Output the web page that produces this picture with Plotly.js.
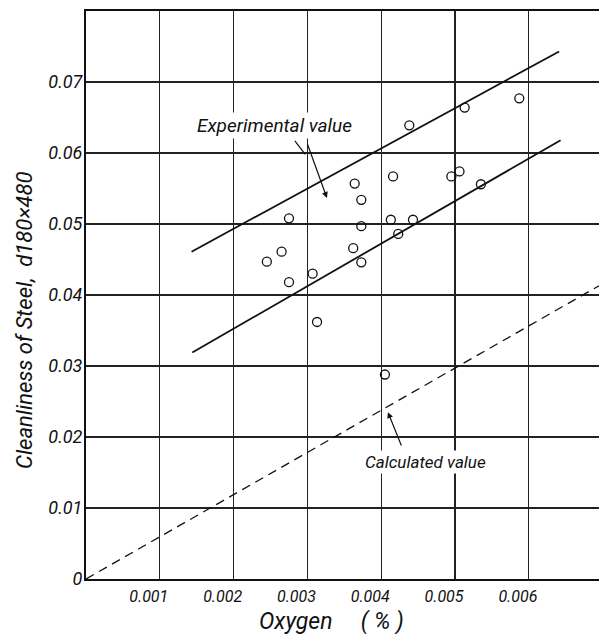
<!DOCTYPE html>
<html>
<head>
<meta charset="utf-8">
<script src="https://cdn.plot.ly/plotly-3.0.1.min.js"></script>
<style>html,body{margin:0;padding:0;background:#fff;}#chart{width:599px;height:634px;}</style>
</head>
<body>
<div id="chart"></div>
<script>
// Measured data (oxygen %, cleanliness)
const oxygen = [0.00245, 0.00265, 0.00275, 0.00275, 0.00307, 0.00313, 0.00362, 0.00364, 0.00373, 0.00373, 0.00373,
                0.00405, 0.00413, 0.00416, 0.00423, 0.00438, 0.00443, 0.00495, 0.00506, 0.00513, 0.00535, 0.00587];
const cleanliness = [0.0447, 0.0461, 0.0508, 0.0418, 0.0430, 0.0362, 0.0466, 0.0557, 0.0534, 0.0497, 0.0446,
                     0.0288, 0.0506, 0.0567, 0.0486, 0.0639, 0.0506, 0.0567, 0.0574, 0.0664, 0.0556, 0.0677];
// Experimental band lines
const upperX = [0.00143, 0.00641];
const upperY = [0.0461, 0.0743];
const lowerX = [0.00144, 0.00643];
const lowerY = [0.0319, 0.0618];
// Calculated value (dashed)
const calcX = [0, 0.00695];
const calcY = [0, 0.0413];
// Ticks
const xTickVals = [0.001, 0.002, 0.003, 0.004, 0.005, 0.006];
const xTickText = ["0.001", "0.002", "0.003", "0.004", "0.005", "0.006"];
const yTickVals = [0, 0.01, 0.02, 0.03, 0.04, 0.05, 0.06, 0.07];
const yTickText = ["0", "0.01", "0.02", "0.03", "0.04", "0.05", "0.06", "0.07"];

const FONT = "Roboto, Liberation Sans Narrow, sans-serif";
const ink = "#111";

const traces = [
  {x: upperX, y: upperY, mode: "lines", line: {color: ink, width: 1.8}, hoverinfo: "skip"},
  {x: lowerX, y: lowerY, mode: "lines", line: {color: ink, width: 1.8}, hoverinfo: "skip"},
  {x: calcX, y: calcY, mode: "lines", line: {color: ink, width: 1.3, dash: "9px,6px"}, hoverinfo: "skip"},
  {x: oxygen, y: cleanliness, mode: "markers",
   marker: {symbol: "circle-open", size: 9, color: ink, line: {width: 1.3, color: ink}}}
];

const layout = {
  width: 599, height: 634,
  margin: {l: 86, r: 0, t: 11, b: 55},
  paper_bgcolor: "#fff", plot_bgcolor: "#fff",
  showlegend: false,
  font: {family: FONT, style: "italic", color: ink},
  xaxis: {
    range: [0, 0.00695], tickvals: xTickVals, ticktext: xTickText,
    showgrid: true, gridcolor: "#222", gridwidth: 1.2,
    showline: true, linecolor: ink, linewidth: 2, mirror: true,
    zeroline: false, ticks: "", ticklabelshift: -11, ticklabelstandoff: 2,
    tickfont: {family: FONT, size: 16, style: "italic", color: ink}
  },
  yaxis: {
    range: [0, 0.08], tickvals: yTickVals, ticktext: yTickText,
    showgrid: true, gridcolor: "#222", gridwidth: 1.2,
    showline: true, linecolor: ink, linewidth: 2, mirror: false,
    zeroline: false, ticks: "", ticklabelstandoff: -2,
    tickfont: {family: FONT, size: 18, style: "italic", color: ink}
  },
  shapes: [
    {type: "line", xref: "x", yref: "y", x0: 0.00283, y0: 0.0617, x1: 0.00297, y1: 0.0598,
     line: {color: ink, width: 1.2}}
  ],
  annotations: [
    {xref: "x", yref: "y", x: 0.00256, y: 0.0639, text: "Experimental value", showarrow: false,
     xanchor: "center", yanchor: "middle",
     bgcolor: "#fff", font: {family: FONT, size: 19, style: "italic", color: ink}},
    {xref: "x", yref: "y", x: 0.003264, y: 0.05366, axref: "x", ayref: "y", ax: 0.002995, ay: 0.0614,
     text: "", showarrow: true, arrowhead: 2, arrowsize: 1, arrowwidth: 1.2, arrowcolor: ink},
    {xref: "x", yref: "y", x: 0.004605, y: 0.01648, text: "Calculated value", showarrow: false,
     xanchor: "center", yanchor: "middle",
     bgcolor: "#fff", font: {family: FONT, size: 17, style: "italic", color: ink}},
    {xref: "x", yref: "y", x: 0.00409, y: 0.0235, axref: "x", ayref: "y", ax: 0.00428, ay: 0.0186,
     text: "", showarrow: true, arrowhead: 2, arrowsize: 1, arrowwidth: 1.2, arrowcolor: ink},
    {xref: "paper", yref: "paper", x: (24 - 86) / 513, y: (579 - 320) / 568, textangle: -90,
     xanchor: "center", yanchor: "middle",
     text: "Cleanliness of Steel,  d180×480", showarrow: false,
     font: {family: FONT, size: 22, style: "italic", color: ink}},
    {xref: "paper", yref: "paper", x: (331 - 86) / 513, y: -(621 - 579) / 568,
     xanchor: "center", yanchor: "middle",
     text: "Oxygen     ( % )", showarrow: false,
     font: {family: FONT, size: 23, style: "italic", color: ink}}
  ]
};

Plotly.newPlot("chart", traces, layout, {displayModeBar: false, staticPlot: true});
</script>
</body>
</html>
